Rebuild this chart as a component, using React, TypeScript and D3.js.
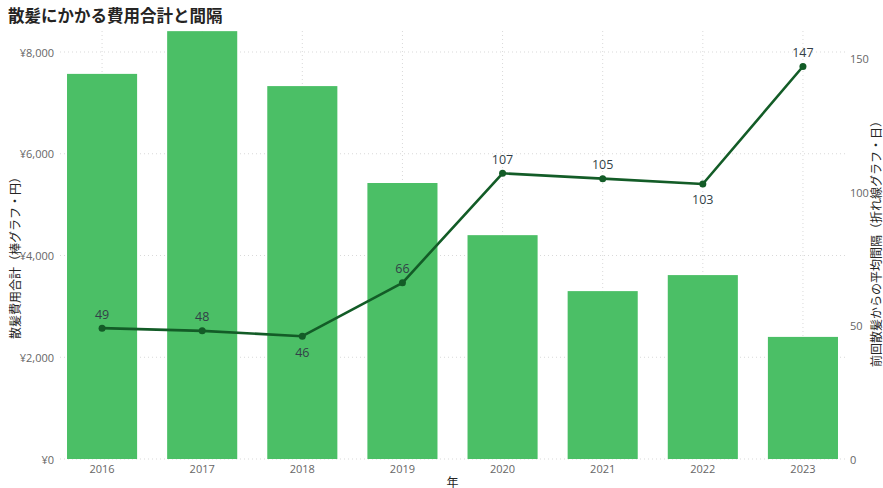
import React, { useEffect } from "react";
import * as d3 from "d3";

const years = ["2016", "2017", "2018", "2019", "2020", "2021", "2022", "2023"];
const costs = [7570, 8410, 7330, 5425, 4400, 3300, 3615, 2400];
const intervals = [49, 48, 46, 66, 107, 105, 103, 147];
const labelBelow = [false, false, true, false, false, false, true, false];
const leftTicks = [0, 2000, 4000, 6000, 8000];
const rightTicks = [0, 50, 100, 150];

const W = 883;
const H = 488;
const plotTop = 31;
const plotBottom = 459;
const plotLeft = 52;
const plotRight = 853;

const FONT = "'Segoe UI', 'Open Sans', 'Noto Sans CJK JP', sans-serif";
const JP = "'Noto Sans CJK JP', 'Noto Sans', sans-serif";

export default function App() {
  useEffect(() => {
    document.body.style.margin = "0";
  }, []);

  const x = d3
    .scaleBand<string>()
    .domain(years)
    .range([plotLeft, plotRight])
    .paddingInner(0.3)
    .paddingOuter(0.15);
  const yL = d3.scaleLinear().domain([0, 8413]).range([plotBottom, plotTop]);
  const yR = d3.scaleLinear().domain([0, 160.3]).range([plotBottom, plotTop]);
  const cx = (y: string) => (x(y) as number) + x.bandwidth() / 2;

  const line = d3
    .line<number>()
    .x((_, i) => cx(years[i]))
    .y((d) => yR(d));

  const fmt = (v: number) => "¥" + d3.format(",")(v);

  return (
    <svg width={W} height={H} style={{ display: "block", background: "#fff" }}>
      <text x={8} y={22} fontFamily={JP} fontWeight={700} fontSize={16.5} fill="#252423">
        散髪にかかる費用合計と間隔
      </text>

      {/* horizontal gridlines */}
      {leftTicks.slice(1).map((t) => (
        <line
          key={"h" + t}
          x1={60}
          x2={845}
          y1={yL(t)}
          y2={yL(t)}
          stroke="#d9d9d9"
          strokeWidth={1}
          strokeDasharray="1,3"
        />
      ))}
      {/* vertical gridlines */}
      {years.map((y) => (
        <line
          key={"v" + y}
          x1={cx(y)}
          x2={cx(y)}
          y1={plotTop}
          y2={plotBottom}
          stroke="#d9d9d9"
          strokeWidth={1}
          strokeDasharray="1,3"
        />
      ))}
      <line x1={60} x2={845} y1={plotBottom} y2={plotBottom} stroke="#d9d9d9" strokeDasharray="1,3" />

      {/* bars */}
      {costs.map((c, i) => (
        <rect
          key={"b" + i}
          x={x(years[i])}
          y={yL(c)}
          width={x.bandwidth()}
          height={plotBottom - yL(c)}
          fill="#4BBF66"
        />
      ))}

      {/* line */}
      <path d={line(intervals) || ""} fill="none" stroke="#135C27" strokeWidth={2.6} strokeLinejoin="round" />
      {intervals.map((v, i) => (
        <circle key={"p" + i} cx={cx(years[i])} cy={yR(v)} r={3.5} fill="#135C27" />
      ))}
      {intervals.map((v, i) => (
        <text
          key={"l" + i}
          x={cx(years[i])}
          y={yR(v) + (labelBelow[i] ? 16 : -14)}
          textAnchor="middle"
          dominantBaseline="central"
          fontFamily={FONT}
          fontSize={12.5}
          fill="#333f48"
        >
          {v}
        </text>
      ))}

      {/* left axis labels */}
      {leftTicks.map((t) => (
        <text
          key={"lt" + t}
          x={54}
          y={yL(t)}
          textAnchor="end"
          dominantBaseline="central"
          fontFamily={FONT}
          fontSize={11}
          fill="#666666"
        >
          {fmt(t)}
        </text>
      ))}
      {/* right axis labels */}
      {rightTicks.map((t) => (
        <text
          key={"rt" + t}
          x={850}
          y={yR(t)}
          textAnchor="start"
          dominantBaseline="central"
          fontFamily={FONT}
          fontSize={11}
          fill="#666666"
        >
          {t}
        </text>
      ))}
      {/* x axis labels */}
      {years.map((y) => (
        <text
          key={"xt" + y}
          x={cx(y)}
          y={468}
          textAnchor="middle"
          dominantBaseline="central"
          fontFamily={FONT}
          fontSize={11}
          fill="#666666"
        >
          {y}
        </text>
      ))}
      <text
        x={(plotLeft + plotRight) / 2}
        y={481}
        textAnchor="middle"
        dominantBaseline="central"
        fontFamily={JP}
        fontSize={12}
        fill="#252423"
      >
        年
      </text>

      {/* axis titles */}
      <text
        transform={`translate(14, ${(plotTop + plotBottom) / 2 + 10}) rotate(-90)`}
        textAnchor="middle"
        dominantBaseline="central"
        fontFamily={JP}
        fontSize={12}
        fill="#252423"
      >
        散髪費用合計（棒グラフ・円）
      </text>
      <text
        transform={`translate(875, ${(plotTop + plotBottom) / 2 - 4}) rotate(-90)`}
        textAnchor="middle"
        dominantBaseline="central"
        fontFamily={JP}
        fontSize={12}
        fill="#252423"
      >
        前回散髪からの平均間隔（折れ線グラフ・日）
      </text>
    </svg>
  );
}
